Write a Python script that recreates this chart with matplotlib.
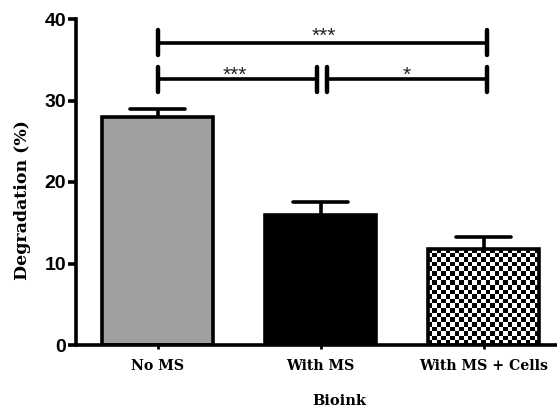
import numpy as np
import matplotlib
matplotlib.use('Agg')
import matplotlib.pyplot as plt

groups = ['No MS', 'With MS', 'With MS + Cells']
means = [28.0, 15.9, 11.8]
errs = [1.0, 1.7, 1.5]
colors = ['#a0a0a0', '#000000', '#ffffff']

# significance brackets: (x start, x end, y, label, label x)
brackets = [(0.0, 2.02, 37.1, '***', 1.02),
            (0.0, 0.975, 32.6, '***', 0.475),
            (1.04, 2.02, 32.6, '*', 1.53)]

serif = 'DejaVu Serif'
sans = 'Liberation Sans'

fig = plt.figure(figsize=(5.57, 4.09), dpi=100)
ax = fig.add_axes([76/557, 1-345/409, 1-76/557, 326/409])

x = np.arange(len(groups))
w = 0.68
lw = 2.6

# faces, then checker texture, then outlines
faces = ax.bar(x, means, width=w, color=colors, edgecolor='none', zorder=2)
cb = faces[2]
ncol = 25
nrow = int(round(means[2] / 0.55))
checks = (np.add.outer(np.arange(nrow), np.arange(ncol)) % 2).astype(float)
im = ax.imshow(checks, cmap='gray', vmin=0, vmax=1, interpolation='nearest',
               extent=[x[2]-w/2, x[2]+w/2, 0, means[2]], aspect='auto', zorder=2.5)
im.set_clip_path(cb)
ax.bar(x, means, width=w, color='none', edgecolor='black', linewidth=lw, zorder=3)

# upper error bars
ax.vlines(x, means, np.array(means)+np.array(errs), color='black', lw=lw, zorder=1)
ax.hlines(np.array(means)+np.array(errs), x-0.17, x+0.17, color='black', lw=lw,
          capstyle='round', zorder=1)

for x0, x1, y, lab, lx in brackets:
    ax.plot([x0, x1], [y, y], color='black', lw=lw, solid_capstyle='butt', zorder=4)
    for xe in (x0, x1):
        ax.plot([xe, xe], [y-1.5, y+1.5], color='black', lw=3.2,
                solid_capstyle='round', zorder=4)
    dy = 0.15 if y > 35 else -0.2
    ax.text(lx, y+dy, lab, ha='center', va='baseline', fontsize=15,
            fontfamily=sans, color='#222222')

ax.set_xlim(-0.5, 2.45)
ax.set_ylim(0, 40)
ax.set_yticks([0, 10, 20, 30, 40])
ax.set_xticks(x)
ax.set_xticklabels(groups, fontfamily=serif, fontweight='bold', fontsize=10.2)
for t in ax.get_yticklabels():
    t.set_fontfamily(sans)
    t.set_fontweight('bold')
    t.set_fontsize(14)
ax.tick_params(axis='y', direction='out', length=6, width=lw, pad=1)
ax.tick_params(axis='x', direction='out', length=3, width=2, pad=7)

for s in ['top', 'right']:
    ax.spines[s].set_visible(False)
for s in ['left', 'bottom']:
    ax.spines[s].set_linewidth(lw)
ax.spines['bottom'].set_capstyle('butt')

ax.set_ylabel('Degradation (%)', fontfamily=serif, fontweight='bold', fontsize=12.5)
ax.yaxis.set_label_coords(-(76-23)/(557-76), (345-200)/326)
ax.yaxis.label.set_va('center')
ax.set_xlabel('Bioink', fontfamily=serif, fontweight='bold', fontsize=10.5)
ax.xaxis.set_label_coords((339-76)/(557-76), -(401-345)/326)
ax.xaxis.label.set_va('center')

fig.savefig('out.png', dpi=100)
